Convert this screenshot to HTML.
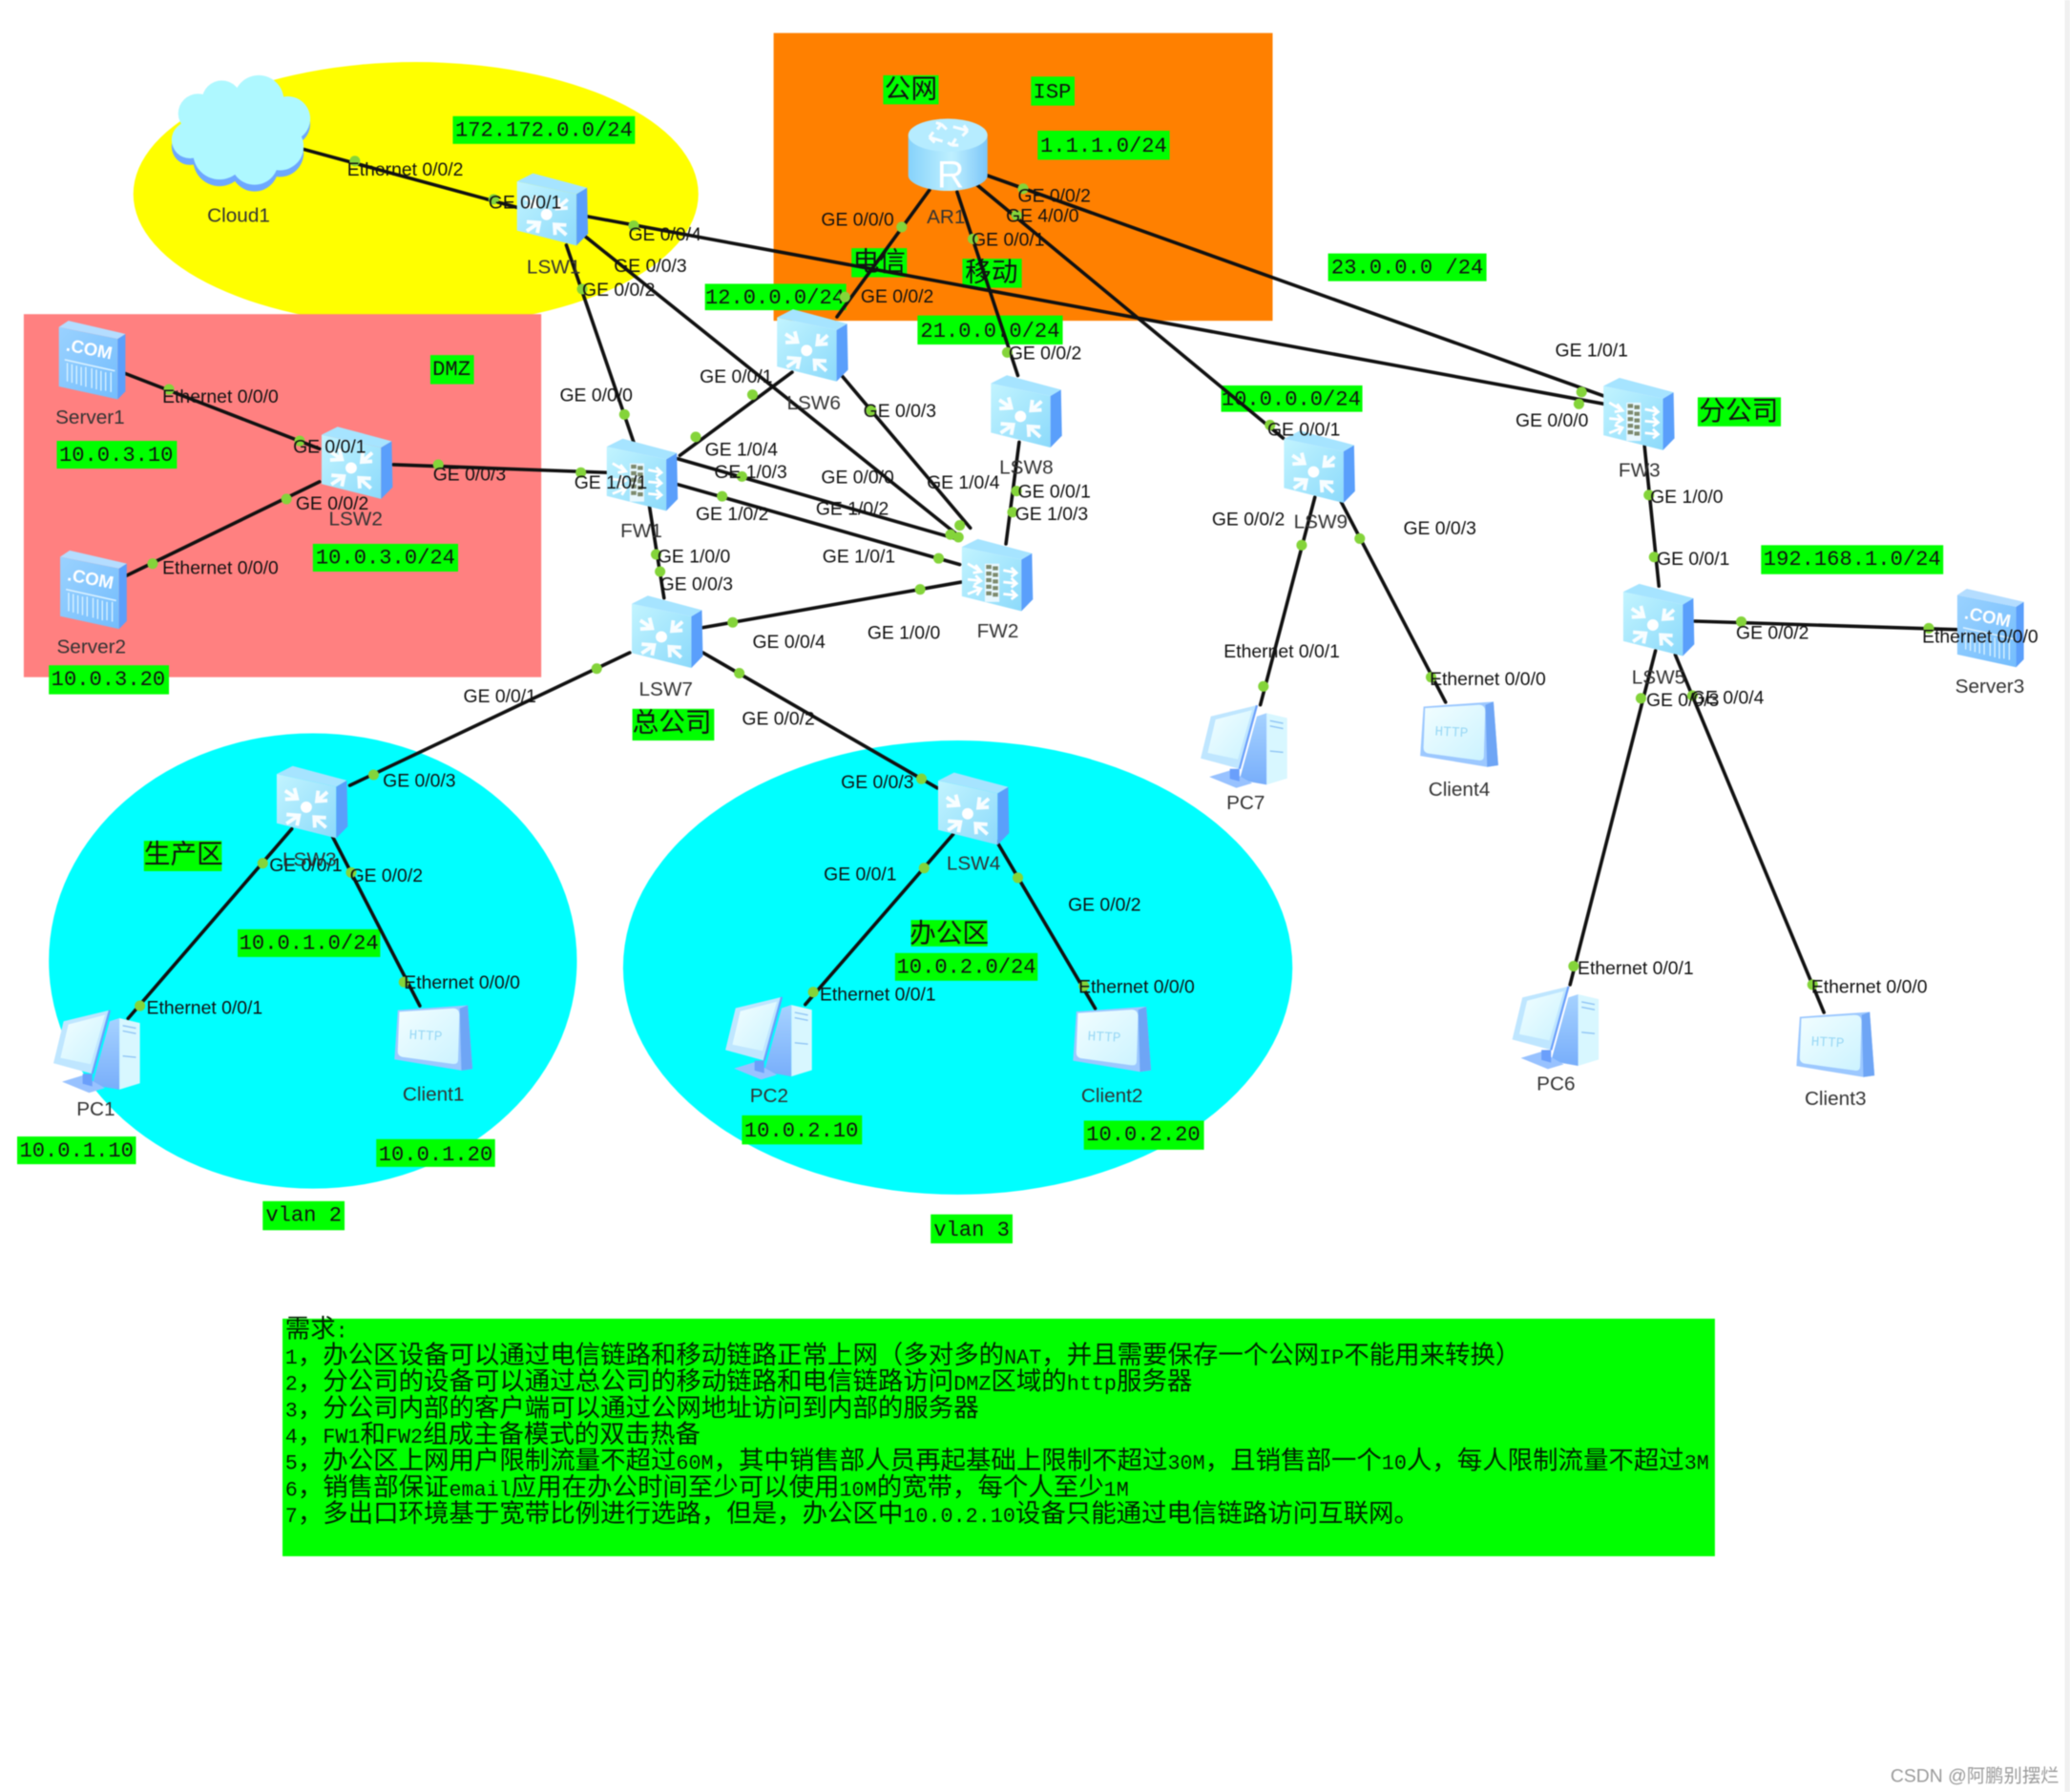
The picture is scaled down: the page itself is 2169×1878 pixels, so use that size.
<!DOCTYPE html>
<html><head><meta charset="utf-8"><title>Network topology</title>
<style>
html,body{margin:0;padding:0;background:#fff}
svg{display:block;width:2169px;height:1878px;filter:blur(.6px)}
.l{font:14px "Liberation Sans","Noto Sans CJK SC",sans-serif;fill:#111}
.n{font:15px "Liberation Sans",sans-serif;fill:#333}
.g{font:16px "Liberation Mono","Noto Sans CJK SC",monospace;fill:#111;text-anchor:middle}
.c{font:20px "WenQuanYi Zen Hei","Noto Sans CJK SC",sans-serif;fill:#111;text-anchor:middle}
.q{font:19.12px "Liberation Mono","WenQuanYi Zen Hei","Noto Sans CJK SC",monospace;fill:#002200}
.q tspan{font-size:15.75px}
</style></head><body>
<svg xmlns="http://www.w3.org/2000/svg" viewBox="0 0 1568 1357.6" width="2169" height="1878">
<defs>
<linearGradient id="f" x1="0" y1="0" x2="1" y2="1"><stop offset="0" stop-color="#c2f4ff"/><stop offset="1" stop-color="#8cdafb"/></linearGradient>
<linearGradient id="s" x1="0" y1="0" x2="1" y2="1"><stop offset="0" stop-color="#9ad2ff"/><stop offset="1" stop-color="#74bdfd"/></linearGradient>
<linearGradient id="m" x1="0" y1="0" x2="1" y2="1"><stop offset="0" stop-color="#f2feff"/><stop offset="1" stop-color="#ccf3ff"/></linearGradient>
<linearGradient id="r" x1="0" y1="0" x2="1" y2="0"><stop offset="0" stop-color="#86d2fb"/><stop offset=".55" stop-color="#bff0ff"/><stop offset="1" stop-color="#7cc6f9"/></linearGradient>
<linearGradient id="t" x1="0" y1="0" x2="0" y2="1"><stop offset="0" stop-color="#a6d2ff"/><stop offset="1" stop-color="#78aefb"/></linearGradient>
<g id="box">
<polygon points="-26.400,-20.600 18.700,-11 18.700,28 -26.400,16.700" fill="url(#f)"/>
<polygon points="18.700,-11 26.700,-15.800 27.400,19.100 18.700,28" fill="#5a9ffb"/>
<polygon points="-26.400,-20.600 -14.300,-26.700 26.700,-15.800 18.700,-11" fill="#a6e4ff"/>
</g>
<g id="sw"><use href="#box"/>
<g fill="none" stroke="#fff" stroke-width="2.8" stroke-opacity=".92">
<path d="M-20-8L-11-2M-20-1.500L-11-2L-13-10M12-7L4 0M12-.5L4 0L5-8M-19 17L-9.500 10.700M-19 10L-9.500 10.700L-11 18.500M11 20L2 12M11 12.500L2 12L2.500 20"/>
</g><circle cx="-4" cy="4.500" r="4.300" fill="#fff"/></g>
<g id="fw"><use href="#box"/>
<g fill="none" stroke="#fff" stroke-width="2">
<path d="M-22-8L-12-2M-16-7L-12-2L-18-1M-22 4L-12 5M-16 1L-12 5L-17 8M-22 15L-12 11M-18 9L-12 11L-15 16M5-3L15-1M11-5L15-1L11 2M5 6L15 7M11 3L15 7L11 10M5 15L15 16M11 12L15 16L11 19"/>
</g>
<rect x="-9" y="-8" width="11" height="29" fill="#e8f8ff"/>
<g fill="#7d8a6e"><rect x="-8" y="-7" width="4" height="3"/><rect x="-3" y="-6" width="4" height="3"/><rect x="-8" y="-2" width="4" height="3"/><rect x="-3" y="-1" width="4" height="3"/><rect x="-8" y="3" width="4" height="3"/><rect x="-3" y="4" width="4" height="3"/><rect x="-8" y="8" width="4" height="3"/><rect x="-3" y="9" width="4" height="3"/><rect x="-8" y="13" width="4" height="3"/><rect x="-3" y="14" width="4" height="3"/></g></g>
<g id="srv">
<polygon points="-25.400,-25.200 19.200,-16.300 19.200,29.500 -25.400,19.800" fill="url(#s)"/>
<polygon points="19.200,-16.300 25,-20 25,23.500 19.200,29.500" fill="#5b9ffb"/>
<polygon points="-25.400,-25.200 -18.200,-30 25,-20 19.200,-16.300" fill="#b4ddff"/>
<text transform="translate(-20.500,-7.500) rotate(11)" style="font:bold 13.500px 'Liberation Sans',sans-serif;fill:#fff">.COM</text>
<path d="M-21-.5L17 8" stroke="#d8f0ff" stroke-width="1.200"/>
<path d="M-19 2V16M-15.500 3V17M-12 4V18M-8.500 5V19M-5 5V20M-.5 6V21M3 7V22M6.500 8V23M10 9V23M14 9V24" stroke="#d8f2ff" stroke-width="1"/>
</g>
<g id="pc">
<polygon points="16.400,-24.700 32,-21 32,24.700 16.400,29.500" fill="#d8f7ff"/>
<path d="M19 -19L29 -17M19 -15L29 -13M19 4L29 5" stroke="#8fc4f5" stroke-width="1"/>
<polygon points="9.100,-22.300 16.400,-24.700 16.400,29.500 -4.100,25.900" fill="url(#t)"/>
<polygon points="-27,23.500 -11.400,18.700 5.500,28.300 -6.500,31.900" fill="#98c2ff"/>
<polygon points="-11.400,17.500 -4.100,17.500 -4.100,27 -11.400,25" fill="#6a9ffb"/>
<polygon points="-25.800,-22.300 9.100,-30.700 -4.100,17.500 -33.500,9.500" fill="#bfe6ff"/>
<polygon points="-22.200,-19.900 5.500,-27.100 -5.300,10.200 -28.200,5.400" fill="url(#m)"/>
<path d="M9.100-30.700L-4.100 17.500" stroke="#6a9ffb" stroke-width="1.600"/>
</g>
<g id="cl">
<polygon points="-25.700,-20.700 27.300,-24.400 30.900,23.800 22.500,25 -28.200,16.600" fill="#9cc8ff"/>
<polygon points="21.200,-22 27.300,-24.400 30.900,23.800 22.500,25" fill="#6ea5f5"/>
<path d="M-24.500-19.500L15-22Q21-22.500 21-17L20 17Q20 20.500 16 20L-22 14.800Q-26 14 -25.700 10Z" fill="url(#m)"/>
<text transform="translate(-17.300,1) rotate(3)" style="font:10.500px 'Liberation Mono',monospace;fill:#9ad8f5">HTTP</text>
</g>
</defs>

<rect width="1568" height="1358" fill="#fff"/>
<rect x="1564" y="0" width="4" height="1358" fill="#f0f0f0"/>

<!-- zones -->
<ellipse cx="315" cy="147" rx="214" ry="100" fill="#ffff00"/>
<rect x="586" y="25" width="378" height="218" fill="#ff8000"/>
<rect x="18" y="238" width="392" height="275" fill="#ff8080"/>
<ellipse cx="237" cy="728" rx="200" ry="172.500" fill="#00ffff"/>
<ellipse cx="725.500" cy="733" rx="253.500" ry="172" fill="#00ffff"/>
<rect x="214" y="999" width="1085" height="180" fill="#00ff00"/>

<!-- green labels -->
<g fill="#00ff00">
<rect x="343" y="88" width="138" height="21"/><rect x="669" y="57" width="42" height="22"/><rect x="781" y="58" width="33" height="22"/><rect x="786" y="99" width="100" height="22"/><rect x="645" y="188" width="42" height="22"/><rect x="729" y="196" width="45" height="22"/><rect x="534" y="215" width="107" height="20"/><rect x="695" y="239" width="110" height="22"/><rect x="1006" y="192" width="120" height="21"/><rect x="925" y="292" width="107" height="20"/><rect x="326" y="269" width="33" height="22"/><rect x="43" y="334" width="91" height="21"/><rect x="237" y="412" width="110" height="21"/><rect x="37" y="504" width="91" height="22"/><rect x="1286" y="301" width="63" height="22"/><rect x="1334" y="413" width="138" height="22"/><rect x="479" y="537" width="62" height="24"/><rect x="109" y="637" width="59" height="23"/><rect x="180" y="704" width="108" height="21"/><rect x="690" y="697" width="58" height="20"/><rect x="678" y="722" width="108" height="21"/><rect x="13" y="861" width="90" height="21"/><rect x="285" y="863" width="90" height="21"/><rect x="562" y="845" width="91" height="22"/><rect x="821" y="849" width="91" height="22"/><rect x="199" y="910" width="62" height="22"/><rect x="705" y="920" width="62" height="22"/>
</g>
<g class="g">
<text class="g" x="412" y="103">172.172.0.0/24</text><text class="g" x="797" y="74">ISP</text><text class="g" x="836" y="115">1.1.1.0/24</text><text class="g" x="587" y="230">12.0.0.0/24</text><text class="g" x="750" y="255">21.0.0.0/24</text><text class="g" x="1066" y="207">23.0.0.0 /24</text><text class="g" x="978" y="307">10.0.0.0/24</text><text class="g" x="342" y="284">DMZ</text><text class="g" x="88" y="349">10.0.3.10</text><text class="g" x="292" y="427">10.0.3.0/24</text><text class="g" x="82" y="519">10.0.3.20</text><text class="g" x="1403" y="428">192.168.1.0/24</text><text class="g" x="234" y="719">10.0.1.0/24</text><text class="g" x="732" y="737">10.0.2.0/24</text><text class="g" x="58" y="876">10.0.1.10</text><text class="g" x="330" y="879">10.0.1.20</text><text class="g" x="607" y="861">10.0.2.10</text><text class="g" x="866" y="864">10.0.2.20</text><text class="g" x="230" y="925">vlan 2</text><text class="g" x="736" y="936">vlan 3</text>
<text class="c" x="690" y="74">公网</text><text class="c" x="666" y="205">电信</text><text class="c" x="751" y="213">移动</text><text class="c" x="1317" y="318">分公司</text><text class="c" x="509" y="554">总公司</text><text class="c" x="139" y="654">生产区</text><text class="c" x="719" y="714">办公区</text>
</g>

<!-- links -->
<g stroke="#111" stroke-width="2.6" fill="none" stroke-linecap="round">
<path d="M229 112.800L395 158"/><path d="M445 164L1215 306"/><path d="M429 185.700L480 335"/><path d="M443.700 179.400L725 405"/>
<path d="M95 283L242 340"/><path d="M96 436L242 365"/><path d="M298 352L460 358"/>
<path d="M704 144L634 240"/><path d="M725 145.400L771 284.500"/><path d="M740 140L972 332"/><path d="M748 133L1215 300"/>
<path d="M600 282L515 345"/><path d="M638 285L735 400"/><path d="M772 335L762 412"/>
<path d="M513.300 347.500L725 408.400"/><path d="M513.300 367L727 427.700"/><path d="M492 384L503 453"/><path d="M532.600 475.400L728 441"/>
<path d="M477 494.500L265 595"/><path d="M532.600 494.500L710 597"/>
<path d="M221 628L97 771.600"/><path d="M252 634L318 762"/><path d="M722 632L610 761"/><path d="M755 637.400L829.600 764"/>
<path d="M996 376.700L954.700 534"/><path d="M1015.800 380L1095 532"/><path d="M1245.700 338L1256.600 444"/><path d="M1283.600 470.600L1483 477"/><path d="M1254 493L1189.300 746"/><path d="M1269 496L1381.600 767"/>
</g>
<!-- dots -->
<g fill="#84d43a">
<circle cx="268.800" cy="122" r="4"/><circle cx="374" cy="151" r="4"/><circle cx="480" cy="171" r="4"/><circle cx="441" cy="219" r="4"/><circle cx="473" cy="314" r="4"/><circle cx="527" cy="331" r="4"/><circle cx="570" cy="299" r="4"/><circle cx="660" cy="311" r="4"/><circle cx="683" cy="172" r="4"/><circle cx="737" cy="181" r="4"/><circle cx="640" cy="225" r="4"/><circle cx="763" cy="267" r="4"/><circle cx="775" cy="143" r="4"/><circle cx="770" cy="163" r="4"/><circle cx="128" cy="295" r="4"/><circle cx="227" cy="334" r="4"/><circle cx="332" cy="352" r="4"/><circle cx="440" cy="358" r="4"/><circle cx="217" cy="378" r="4"/><circle cx="115.600" cy="427" r="4"/><circle cx="562" cy="361" r="4"/><circle cx="547" cy="376" r="4"/><circle cx="711" cy="423" r="4"/><circle cx="720" cy="405" r="4"/><circle cx="727" cy="398" r="4"/><circle cx="726" cy="407" r="4"/><circle cx="497" cy="420" r="4"/><circle cx="500" cy="433" r="4"/><circle cx="555" cy="471.500" r="4"/><circle cx="697" cy="446.500" r="4"/><circle cx="452" cy="506.500" r="4"/><circle cx="283" cy="587" r="4"/><circle cx="560" cy="510" r="4"/><circle cx="698" cy="590" r="4"/><circle cx="199" cy="654" r="4"/><circle cx="106" cy="762" r="4"/><circle cx="266" cy="661" r="4"/><circle cx="306" cy="744" r="4"/><circle cx="700" cy="657.600" r="4"/><circle cx="616" cy="751.600" r="4"/><circle cx="771" cy="665" r="4"/><circle cx="821" cy="747" r="4"/><circle cx="770" cy="372" r="4"/><circle cx="767" cy="388" r="4"/><circle cx="962" cy="322" r="4"/><circle cx="986" cy="413" r="4"/><circle cx="957" cy="520" r="4"/><circle cx="1030" cy="408" r="4"/><circle cx="1084" cy="513" r="4"/><circle cx="1198" cy="297" r="4"/><circle cx="1196" cy="306" r="4"/><circle cx="1249" cy="375" r="4"/><circle cx="1253" cy="422" r="4"/><circle cx="1319" cy="471" r="4"/><circle cx="1461" cy="476" r="4"/><circle cx="1243" cy="529" r="4"/><circle cx="1192" cy="732" r="4"/><circle cx="1282" cy="527" r="4"/><circle cx="1373" cy="746" r="4"/>
</g>

<!-- cloud -->
<g fill="#6ea8ff" transform="translate(0,5)"><circle cx="144" cy="106" r="14"/><circle cx="166.300" cy="116" r="20"/><circle cx="192.800" cy="122" r="18"/><circle cx="212" cy="111" r="18"/><circle cx="219" cy="89" r="16"/><circle cx="183" cy="97" r="30"/></g>
<g fill="#aef8ff"><circle cx="168" cy="76" r="15"/><circle cx="196" cy="76" r="19"/><circle cx="218" cy="90" r="17"/><circle cx="150" cy="86" r="15"/><circle cx="144" cy="106" r="14"/><circle cx="166.300" cy="116" r="20"/><circle cx="192.800" cy="122" r="18"/><circle cx="212" cy="111" r="18"/><circle cx="176" cy="96" r="28"/><circle cx="192" cy="98" r="28"/></g>

<!-- router -->
<g transform="translate(718,118)">
<path d="M-30-15.600V15C-30 21-16 26.600 0 26.600S30 21 30 15V-15.600Z" fill="url(#r)"/>
<ellipse cx="0" cy="-15.600" rx="30" ry="12.500" fill="#b6ecff"/>
<g fill="none" stroke="#fff" stroke-width="2.200" stroke-opacity=".9"><path d="M-5-24L-1-20M-5-24L-8-20M-5-24L-9-25M4-22L15-19M15-19L12-23M15-19L11-15M-4-11L-14-14M-14-14L-11-18M-14-14L-10-10M3-8L6-13M3-8L8-8M3-8L0-10"/></g>
<text x="2" y="24" text-anchor="middle" style="font:28.600px 'Liberation Sans',sans-serif;fill:#fff">R</text>
</g>

<use href="#sw" x="418" y="158"/><use href="#sw" x="270" y="350"/><use href="#sw" x="615" y="261"/><use href="#sw" x="777" y="311"/><use href="#sw" x="999" y="353"/><use href="#sw" x="505" y="478"/><use href="#sw" x="236" y="607"/><use href="#sw" x="737" y="612"/><use href="#sw" x="1256" y="469"/>
<use href="#fw" x="486" y="359"/><use href="#fw" x="755" y="435"/><use href="#fw" x="1241" y="313"/>
<use href="#srv" x="70" y="273"/><use href="#srv" x="71" y="447"/><use href="#srv" x="1508" y="476"/>
<use href="#pc" x="74" y="796"/><use href="#pc" x="583" y="786"/><use href="#pc" x="943" y="565"/><use href="#pc" x="1179" y="778"/>
<use href="#cl" x="327" y="786"/><use href="#cl" x="841" y="787"/><use href="#cl" x="1104" y="556"/><use href="#cl" x="1389" y="791"/>

<!-- interface labels -->
<g class="l">
<text class="l" x="263" y="133">Ethernet 0/0/2</text><text class="l" x="370" y="158">GE 0/0/1</text><text class="l" x="476" y="182">GE 0/0/4</text><text class="l" x="465" y="206">GE 0/0/3</text><text class="l" x="441" y="224">GE 0/0/2</text>
<text class="l" x="622" y="171">GE 0/0/0</text><text class="l" x="771" y="153">GE 0/0/2</text><text class="l" x="762" y="168">GE 4/0/0</text><text class="l" x="736" y="186">GE 0/0/1</text><text class="l" x="652" y="229">GE 0/0/2</text><text class="l" x="764" y="272">GE 0/0/2</text>
<text class="l" x="530" y="290">GE 0/0/1</text><text class="l" x="654" y="316">GE 0/0/3</text><text class="l" x="424" y="304">GE 0/0/0</text>
<text class="l" x="123" y="305">Ethernet 0/0/0</text><text class="l" x="222" y="343">GE 0/0/1</text><text class="l" x="328" y="364">GE 0/0/3</text><text class="l" x="435" y="370">GE 1/0/1</text><text class="l" x="224" y="386">GE 0/0/2</text><text class="l" x="123" y="435">Ethernet 0/0/0</text>
<text class="l" x="534" y="345">GE 1/0/4</text><text class="l" x="541" y="362">GE 1/0/3</text><text class="l" x="527" y="394">GE 1/0/2</text><text class="l" x="498" y="426">GE 1/0/0</text><text class="l" x="500" y="447">GE 0/0/3</text><text class="l" x="622" y="366">GE 0/0/0</text><text class="l" x="618" y="390">GE 1/0/2</text><text class="l" x="702" y="370">GE 1/0/4</text><text class="l" x="623" y="426">GE 1/0/1</text><text class="l" x="657" y="484">GE 1/0/0</text><text class="l" x="570" y="491">GE 0/0/4</text><text class="l" x="351" y="532">GE 0/0/1</text><text class="l" x="562" y="549">GE 0/0/2</text>
<text class="l" x="771" y="377">GE 0/0/1</text><text class="l" x="769" y="394">GE 1/0/3</text><text class="l" x="960" y="330">GE 0/0/1</text><text class="l" x="918" y="398">GE 0/0/2</text><text class="l" x="1063" y="405">GE 0/0/3</text><text class="l" x="927" y="498">Ethernet 0/0/1</text><text class="l" x="1083" y="519">Ethernet 0/0/0</text>
<text class="l" x="1178" y="270">GE 1/0/1</text><text class="l" x="1148" y="323">GE 0/0/0</text><text class="l" x="1250" y="381">GE 1/0/0</text><text class="l" x="1255" y="428">GE 0/0/1</text><text class="l" x="1315" y="484">GE 0/0/2</text><text class="l" x="1456" y="487">Ethernet 0/0/0</text><text class="l" x="1247" y="535">GE 0/0/3</text><text class="l" x="1281" y="533">GE 0/0/4</text><text class="l" x="1195" y="738">Ethernet 0/0/1</text><text class="l" x="1372" y="752">Ethernet 0/0/0</text>
<text class="l" x="290" y="596">GE 0/0/3</text><text class="l" x="204" y="660">GE 0/0/1</text><text class="l" x="265" y="668">GE 0/0/2</text><text class="l" x="111" y="768">Ethernet 0/0/1</text><text class="l" x="306" y="749">Ethernet 0/0/0</text>
<text class="l" x="637" y="597">GE 0/0/3</text><text class="l" x="624" y="667">GE 0/0/1</text><text class="l" x="809" y="690">GE 0/0/2</text><text class="l" x="621" y="758">Ethernet 0/0/1</text><text class="l" x="817" y="752">Ethernet 0/0/0</text>
</g>
<!-- device names -->
<g class="n">
<text class="n" x="157" y="168">Cloud1</text><text class="n" x="399" y="207">LSW1</text><text class="n" x="702" y="169">AR1</text><text class="n" x="596" y="310">LSW6</text><text class="n" x="42" y="321">Server1</text><text class="n" x="249" y="398">LSW2</text><text class="n" x="43" y="495">Server2</text><text class="n" x="470" y="407">FW1</text><text class="n" x="740" y="483">FW2</text><text class="n" x="484" y="527">LSW7</text><text class="n" x="757" y="359">LSW8</text><text class="n" x="980" y="400">LSW9</text><text class="n" x="929" y="613">PC7</text><text class="n" x="1082" y="603">Client4</text><text class="n" x="1226" y="361">FW3</text><text class="n" x="1236" y="518">LSW5</text><text class="n" x="1481" y="525">Server3</text><text class="n" x="1164" y="826">PC6</text><text class="n" x="1367" y="837">Client3</text><text class="n" x="214" y="656">LSW3</text><text class="n" x="58" y="845">PC1</text><text class="n" x="305" y="834">Client1</text><text class="n" x="717" y="659">LSW4</text><text class="n" x="568" y="835">PC2</text><text class="n" x="819" y="835">Client2</text>
</g>

<!-- requirements -->
<g class="q">
<text class="q" x="216" y="1013">需求<tspan>:</tspan></text>
<text class="q" x="216" y="1033"><tspan>1</tspan>，办公区设备可以通过电信链路和移动链路正常上网（多对多的<tspan>NAT</tspan>，并且需要保存一个公网<tspan>IP</tspan>不能用来转换）</text>
<text class="q" x="216" y="1053"><tspan>2</tspan>，分公司的设备可以通过总公司的移动链路和电信链路访问<tspan>DMZ</tspan>区域的<tspan>http</tspan>服务器</text>
<text class="q" x="216" y="1073"><tspan>3</tspan>，分公司内部的客户端可以通过公网地址访问到内部的服务器</text>
<text class="q" x="216" y="1093"><tspan>4</tspan>，<tspan>FW1</tspan>和<tspan>FW2</tspan>组成主备模式的双击热备</text>
<text class="q" x="216" y="1113"><tspan>5</tspan>，办公区上网用户限制流量不超过<tspan>60M</tspan>，其中销售部人员再起基础上限制不超过<tspan>30M</tspan>，且销售部一个<tspan>10</tspan>人，每人限制流量不超过<tspan>3M</tspan></text>
<text class="q" x="216" y="1133"><tspan>6</tspan>，销售部保证<tspan>email</tspan>应用在办公时间至少可以使用<tspan>10M</tspan>的宽带，每个人至少<tspan>1M</tspan></text>
<text class="q" x="216" y="1153"><tspan>7</tspan>，多出口环境基于宽带比例进行选路，但是，办公区中<tspan>10.0.2.10</tspan>设备只能通过电信链路访问互联网。</text>
</g>

<text x="1432" y="1350" style="font:14px 'Liberation Sans','Noto Sans CJK SC',sans-serif;fill:#9a9a9a">CSDN @阿鹏别摆烂</text>
</svg>
</body></html>
